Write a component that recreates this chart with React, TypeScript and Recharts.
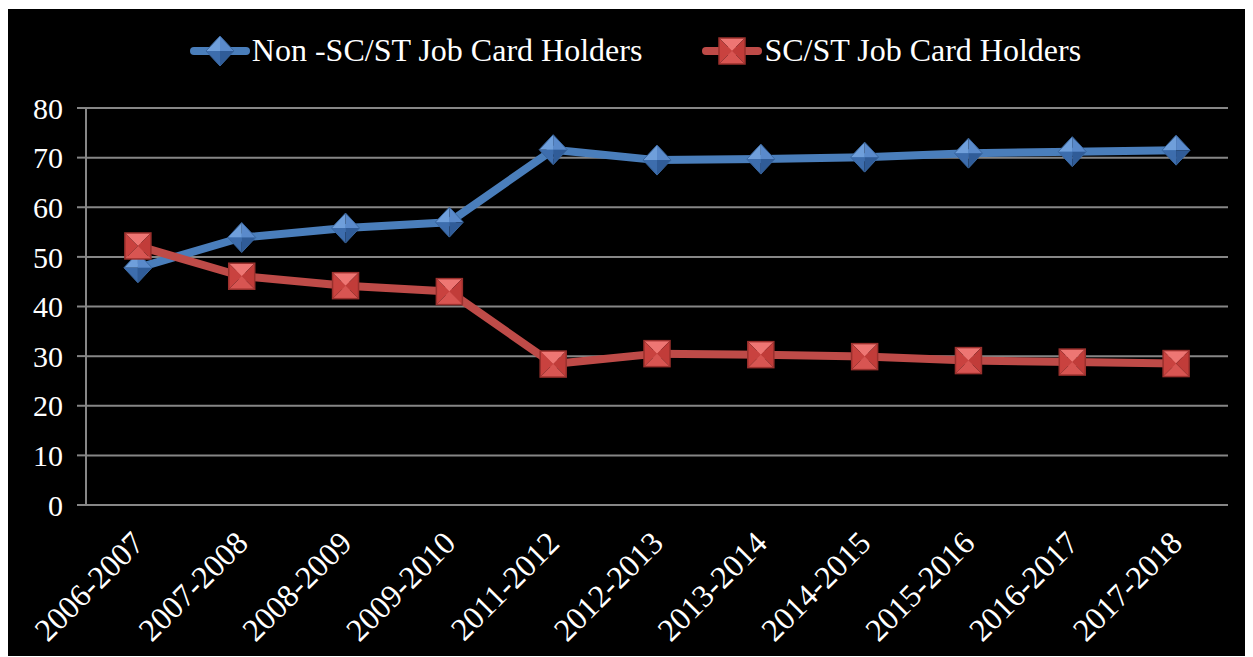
import React from "react";
import { LineChart, Line, XAxis, YAxis, CartesianGrid, Legend } from "recharts";

const years = [
  "2006-2007",
  "2007-2008",
  "2008-2009",
  "2009-2010",
  "2011-2012",
  "2012-2013",
  "2013-2014",
  "2014-2015",
  "2015-2016",
  "2016-2017",
  "2017-2018",
];
const nonScSt = [47.8, 53.9, 55.8, 57.0, 71.6, 69.5, 69.7, 70.1, 70.9, 71.2, 71.5];
const scSt = [52.2, 46.1, 44.2, 43.0, 28.4, 30.5, 30.3, 29.9, 29.1, 28.8, 28.5];
const yTicks = [0, 10, 20, 30, 40, 50, 60, 70, 80];
const boundaryTicks = [0, 1, 2, 3, 4, 5, 6, 7, 8, 9, 10, 11];

const data = years.map((year, i) => ({ year, nonScSt: nonScSt[i], scSt: scSt[i] }));

const FONT = '"Liberation Serif", "Times New Roman", serif';
const GRID = "#868686";
const BLUE = "#4A7EBB";
const RED = "#BE4B48";

function Diamond({ cx, cy }: { cx?: number; cy?: number }) {
  if (cx == null || cy == null) return null;
  const w = 14;
  const h = 15;
  return (
    <g>
      <polygon points={`${cx - w},${cy} ${cx},${cy - h} ${cx},${cy}`} fill="#6F9FDB" />
      <polygon points={`${cx},${cy - h} ${cx + w},${cy} ${cx},${cy}`} fill="#5A8ACB" />
      <polygon points={`${cx - w},${cy} ${cx},${cy + h} ${cx},${cy}`} fill="#3D6DAD" />
      <polygon points={`${cx + w},${cy} ${cx},${cy + h} ${cx},${cy}`} fill="#305C98" />
      <polygon
        points={`${cx - w},${cy} ${cx},${cy - h} ${cx + w},${cy} ${cx},${cy + h}`}
        fill="none"
        stroke="#3A679F"
        strokeWidth={1}
      />
    </g>
  );
}

function Square({ cx, cy }: { cx?: number; cy?: number }) {
  if (cx == null || cy == null) return null;
  const s = 13;
  const l = cx - s;
  const r = cx + s;
  const t = cy - s;
  const b = cy + s;
  return (
    <g>
      <polygon points={`${l},${t} ${r},${t} ${cx},${cy}`} fill="#EE7673" />
      <polygon points={`${l},${t} ${l},${b} ${cx},${cy}`} fill="#C9423F" />
      <polygon points={`${r},${t} ${r},${b} ${cx},${cy}`} fill="#C13C39" />
      <polygon points={`${l},${b} ${r},${b} ${cx},${cy}`} fill="#D85552" />
      <rect x={l} y={t} width={2 * s} height={2 * s} fill="none" stroke="#9A302D" strokeWidth={1.5} />
    </g>
  );
}

function LegendItem({ color, label, shape }: { color: string; label: string; shape: "d" | "s" }) {
  return (
    <div style={{ display: "flex", alignItems: "center" }}>
      <svg width={60} height={34}>
        <line x1={4} y1={17} x2={56} y2={17} stroke={color} strokeWidth={8} strokeLinecap="round" />
        {shape === "d" ? <Diamond cx={30} cy={17} /> : <Square cx={30} cy={17} />}
      </svg>
      <span style={{ color: "#fff", fontFamily: FONT, fontSize: 32, marginLeft: 2 }}>{label}</span>
    </div>
  );
}

function renderLegend() {
  return (
    <div style={{ display: "flex", justifyContent: "center", gap: 60, marginLeft: 10 }}>
      <LegendItem color={BLUE} label="Non -SC/ST Job Card Holders" shape="d" />
      <LegendItem color={RED} label="SC/ST Job Card Holders" shape="s" />
    </div>
  );
}

function YearTick(props: any) {
  const { x, y, payload } = props;
  return (
    <g transform={`translate(${x + 8},${y + 40})`}>
      <text
        x={0}
        y={0}
        textAnchor="end"
        transform="rotate(-45)"
        fill="#fff"
        fontFamily={FONT}
        fontSize={32}
      >
        {payload.value}
      </text>
    </g>
  );
}

export default function App() {
  return (
    <div style={{ position: "relative", top: 1, width: 1245, height: 648, background: "#000" }}>
      <LineChart
        width={1245}
        height={648}
        data={data}
        margin={{ top: 62, right: 25, left: 18, bottom: 0 }}
      >
        <CartesianGrid vertical={false} stroke={GRID} strokeWidth={2} />
        <XAxis
          xAxisId="bounds"
          type="number"
          domain={[0, 11]}
          ticks={boundaryTicks}
          tick={false}
          tickSize={8}
          height={0}
          stroke={GRID}
          strokeWidth={2}
          allowDataOverflow
        />
        <XAxis
          xAxisId="cat"
          dataKey="year"
          scale="band"
          interval={0}
          axisLine={false}
          tickLine={false}
          tickSize={0}
          tickMargin={0}
          height={152}
          tick={<YearTick />}
        />
        <YAxis
          domain={[0, 80]}
          ticks={yTicks}
          width={60}
          tickSize={9}
          tickMargin={14}
          stroke={GRID}
          strokeWidth={2}
          tick={{ fill: "#fff", fontFamily: FONT, fontSize: 30 }}
        />
        <Legend
          verticalAlign="top"
          content={renderLegend}
          wrapperStyle={{ top: 23, left: 0, width: 1245 }}
        />
        <Line
          xAxisId="cat"
          dataKey="nonScSt"
          name="Non -SC/ST Job Card Holders"
          stroke={BLUE}
          strokeWidth={8}
          strokeLinejoin="round"
          dot={<Diamond />}
          activeDot={false}
          isAnimationActive={false}
        />
        <Line
          xAxisId="cat"
          dataKey="scSt"
          name="SC/ST Job Card Holders"
          stroke={RED}
          strokeWidth={8}
          strokeLinejoin="round"
          dot={<Square />}
          activeDot={false}
          isAnimationActive={false}
        />
      </LineChart>
    </div>
  );
}
